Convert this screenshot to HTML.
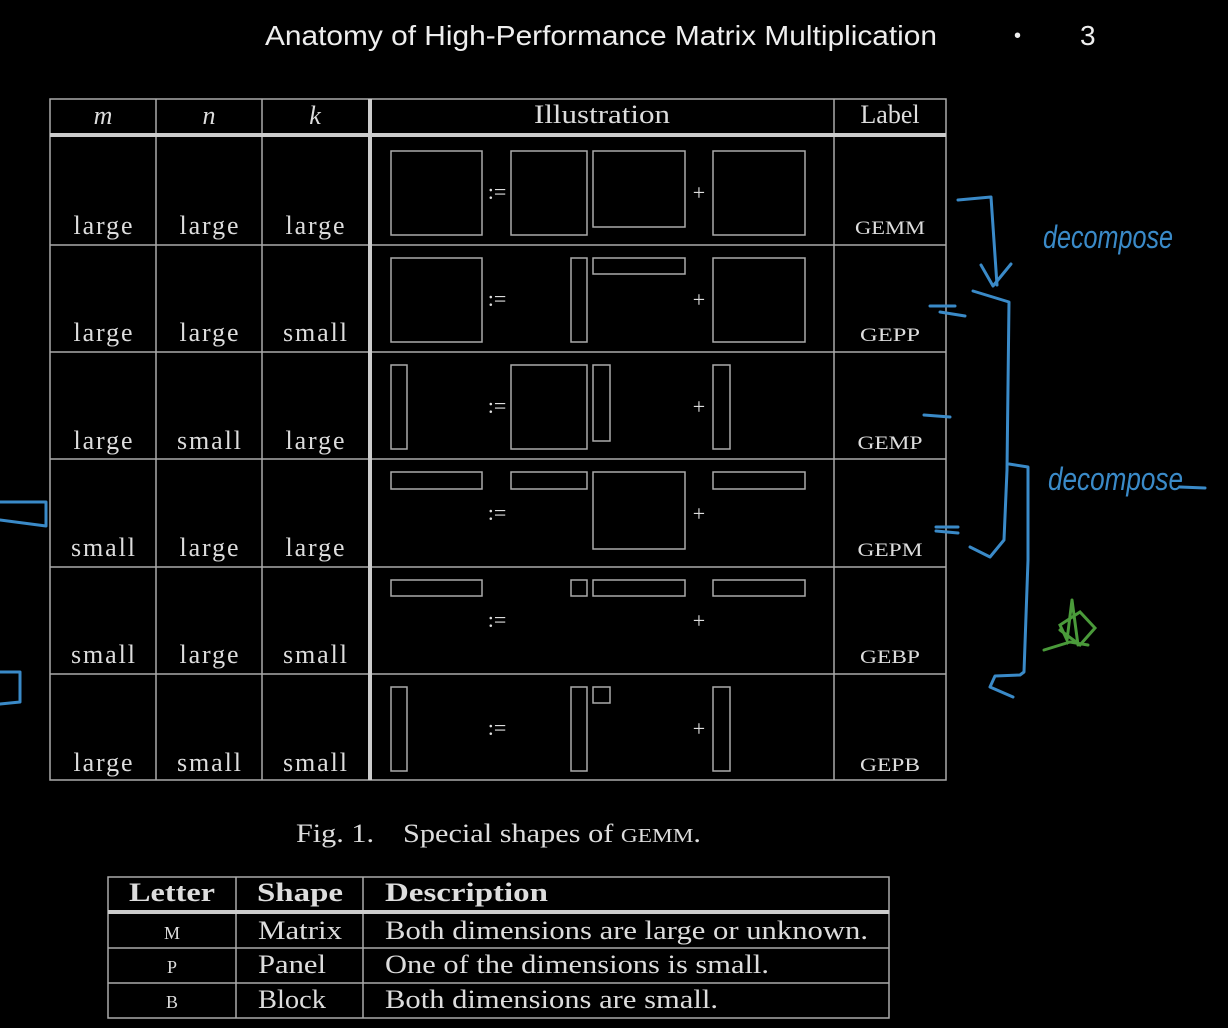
<!DOCTYPE html>
<html><head><style>
body{margin:0;background:#000;}
svg{display:block}
.s{font-family:"Liberation Serif",serif;fill:#ddd}
</style></head><body>
<svg width="1228" height="1028" viewBox="0 0 1228 1028">
<text x="265" y="45" font-family="Liberation Sans,sans-serif" font-size="28" fill="#eee" textLength="672" lengthAdjust="spacingAndGlyphs">Anatomy of High-Performance Matrix Multiplication</text>
<text x="1014" y="42" font-family="Liberation Sans,sans-serif" font-size="20" fill="#eee">•</text>
<text x="1080" y="45" font-family="Liberation Sans,sans-serif" font-size="28" fill="#eee">3</text>
<g stroke="#aaa" stroke-width="1.5" fill="none">
<rect x="50" y="99" width="896" height="681"/>
<line x1="156" y1="99" x2="156" y2="780"/><line x1="262" y1="99" x2="262" y2="780"/>
<line x1="834" y1="99" x2="834" y2="780"/>
<line x1="50" y1="245" x2="946" y2="245"/><line x1="50" y1="352" x2="946" y2="352"/>
<line x1="50" y1="459" x2="946" y2="459"/><line x1="50" y1="567" x2="946" y2="567"/>
<line x1="50" y1="674" x2="946" y2="674"/>
</g>
<line x1="50" y1="135" x2="946" y2="135" stroke="#ccc" stroke-width="4"/>
<line x1="370" y1="99" x2="370" y2="780" stroke="#ccc" stroke-width="4"/>
<g class="s" font-size="26" text-anchor="middle">
<text x="103" y="124" font-style="italic">m</text><text x="209" y="124" font-style="italic">n</text><text x="315" y="124" font-style="italic">k</text>
<text x="602" y="123" textLength="136" lengthAdjust="spacingAndGlyphs">Illustration</text><text x="890" y="123">Label</text>
</g>
<g class="s" font-size="26" text-anchor="middle" lengthAdjust="spacingAndGlyphs">
<text x="103" y="234" textLength="59">large</text><text x="209" y="234" textLength="59">large</text><text x="315" y="234" textLength="59">large</text>
<text x="103" y="341" textLength="59">large</text><text x="209" y="341" textLength="59">large</text><text x="315" y="341" textLength="64">small</text>
<text x="103" y="449" textLength="59">large</text><text x="209" y="449" textLength="64">small</text><text x="315" y="449" textLength="59">large</text>
<text x="103" y="556" textLength="64">small</text><text x="209" y="556" textLength="59">large</text><text x="315" y="556" textLength="59">large</text>
<text x="103" y="663" textLength="64">small</text><text x="209" y="663" textLength="59">large</text><text x="315" y="663" textLength="64">small</text>
<text x="103" y="771" textLength="59">large</text><text x="209" y="771" textLength="64">small</text><text x="315" y="771" textLength="64">small</text>
</g>
<g class="s" font-size="19" text-anchor="middle">
<text x="890" y="234" textLength="70" lengthAdjust="spacingAndGlyphs">GEMM</text><text x="890" y="341" textLength="60" lengthAdjust="spacingAndGlyphs">GEPP</text><text x="890" y="449" textLength="65" lengthAdjust="spacingAndGlyphs">GEMP</text>
<text x="890" y="556" textLength="65" lengthAdjust="spacingAndGlyphs">GEPM</text><text x="890" y="663" textLength="60" lengthAdjust="spacingAndGlyphs">GEBP</text><text x="890" y="771" textLength="60" lengthAdjust="spacingAndGlyphs">GEPB</text>
</g>
<g stroke="#aaa" stroke-width="1.5" fill="none">
<rect x="391" y="151" width="91" height="84"/><rect x="511" y="151" width="76" height="84"/><rect x="593" y="151" width="92" height="76"/><rect x="713" y="151" width="92" height="84"/>
<rect x="391" y="258" width="91" height="84"/><rect x="571" y="258" width="16" height="84"/><rect x="593" y="258" width="92" height="16"/><rect x="713" y="258" width="92" height="84"/>
<rect x="391" y="365" width="16" height="84"/><rect x="511" y="365" width="76" height="84"/><rect x="593" y="365" width="17" height="76"/><rect x="713" y="365" width="17" height="84"/>
<rect x="391" y="472" width="91" height="17"/><rect x="511" y="472" width="76" height="17"/><rect x="593" y="472" width="92" height="77"/><rect x="713" y="472" width="92" height="17"/>
<rect x="391" y="580" width="91" height="16"/><rect x="571" y="580" width="16" height="16"/><rect x="593" y="580" width="92" height="16"/><rect x="713" y="580" width="92" height="16"/>
<rect x="391" y="687" width="16" height="84"/><rect x="571" y="687" width="16" height="84"/><rect x="593" y="687" width="17" height="16"/><rect x="713" y="687" width="17" height="84"/>
</g>
<g class="s" font-size="22" text-anchor="middle">
<text x="497" y="199">:=</text><text x="699" y="200">+</text>
<text x="497" y="306">:=</text><text x="699" y="307">+</text>
<text x="497" y="413">:=</text><text x="699" y="414">+</text>
<text x="497" y="520">:=</text><text x="699" y="521">+</text>
<text x="497" y="627">:=</text><text x="699" y="628">+</text>
<text x="497" y="735">:=</text><text x="699" y="736">+</text>
</g>
<g class="s" font-size="26">
<text x="296" y="842" textLength="78" lengthAdjust="spacingAndGlyphs">Fig. 1.</text>
<text x="403" y="842" textLength="298" lengthAdjust="spacingAndGlyphs">Special shapes of <tspan font-size="20">GEMM</tspan>.</text>
</g>
<g stroke="#aaa" stroke-width="1.5" fill="none">
<rect x="108" y="877" width="781" height="141"/>
<line x1="236" y1="877" x2="236" y2="1018"/><line x1="363" y1="877" x2="363" y2="1018"/>
<line x1="108" y1="948" x2="889" y2="948"/><line x1="108" y1="983" x2="889" y2="983"/>
</g>
<line x1="108" y1="912" x2="889" y2="912" stroke="#ccc" stroke-width="4"/>
<g class="s" font-size="26">
<text x="172" y="901" text-anchor="middle" font-weight="bold" textLength="86" lengthAdjust="spacingAndGlyphs">Letter</text>
<text x="300" y="901" text-anchor="middle" font-weight="bold" textLength="86" lengthAdjust="spacingAndGlyphs">Shape</text>
<text x="385" y="901" font-weight="bold" textLength="163" lengthAdjust="spacingAndGlyphs">Description</text>
<text x="172" y="939" text-anchor="middle" font-size="18">M</text>
<text x="172" y="973" text-anchor="middle" font-size="18">P</text>
<text x="172" y="1008" text-anchor="middle" font-size="18">B</text>
<text x="300" y="939" text-anchor="middle" textLength="84" lengthAdjust="spacingAndGlyphs">Matrix</text>
<text x="292" y="973" text-anchor="middle" textLength="68" lengthAdjust="spacingAndGlyphs">Panel</text>
<text x="292" y="1008" text-anchor="middle" textLength="68" lengthAdjust="spacingAndGlyphs">Block</text>
<text x="385" y="939" textLength="483" lengthAdjust="spacingAndGlyphs">Both dimensions are large or unknown.</text>
<text x="385" y="973" textLength="384" lengthAdjust="spacingAndGlyphs">One of the dimensions is small.</text>
<text x="385" y="1008" textLength="333" lengthAdjust="spacingAndGlyphs">Both dimensions are small.</text>
</g>
<g stroke="#3a8ac8" stroke-width="3" fill="none" stroke-linecap="round" stroke-linejoin="round">
<path d="M958 200 L991 197 L997 285"/><path d="M981 265 L993 286 L1011 264"/>
<path d="M973 291 L1009 302 L1007 470 L1004 540 L990 557 L970 547"/>
<path d="M1009 464 L1028 467 L1028 560 L1024 672 L1020 675 L995 676 L990 687 L1013 697"/>
<path d="M930 306 L955 306 M940 312 L965 316"/>
<path d="M924 415 L950 417"/>
<path d="M936 527 L958 527 M936 531 L958 533"/>
<path d="M0 502 L46 502 L46 526 M0 520 L46 526"/>
<path d="M0 672 L20 672 L20 702 L0 704"/>
<text x="1043" y="248" font-family="Liberation Sans,sans-serif" font-style="italic" font-size="32" fill="#3a8ac8" stroke="none" textLength="130" lengthAdjust="spacingAndGlyphs">decompose</text>
<text x="1048" y="490" font-family="Liberation Sans,sans-serif" font-style="italic" font-size="32" fill="#3a8ac8" stroke="none" textLength="135" lengthAdjust="spacingAndGlyphs">decompose</text>
<path d="M1180 487 L1205 488"/>
</g>
<g stroke="#4a9a3a" stroke-width="3" fill="none" stroke-linecap="round">
<path d="M1044 650 L1070 642 L1088 645 M1072 600 L1067 640 L1060 625 L1080 612 L1095 628 L1080 645 L1060 630 M1072 600 L1078 645"/>
</g>
</svg>
</body></html>
